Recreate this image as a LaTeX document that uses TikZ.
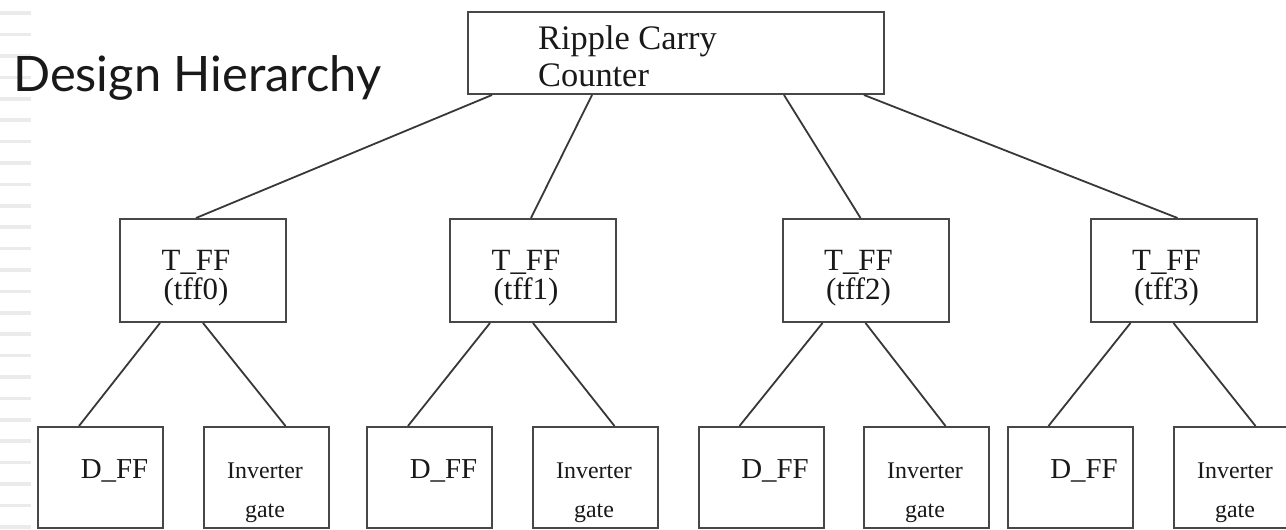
\documentclass[tikz,border=0pt]{standalone}
\usepackage{fontspec}
\setmainfont{Liberation Serif}
\newfontfamily\titlefont{Lato}
\usetikzlibrary{calc}
\begin{document}
\begin{tikzpicture}[x=1bp,y=-1bp,
  box/.style={draw=black!72, line width=2bp, fill=white, rectangle, inner sep=0pt},
  rootbox/.style={box, minimum width=416bp, minimum height=82bp},
  tbox/.style={box, minimum width=166bp, minimum height=103bp},
  leafbox/.style={box, minimum width=125bp, minimum height=101bp},
  link/.style={draw=black!78, line width=1.8bp},
  txt/.style={inner sep=0pt, text=black!90},
  rootfont/.style={font=\fontsize{34.5}{34.5}\selectfont},
  tfont/.style={font=\fontsize{31}{31}\selectfont},
  dfont/.style={font=\fontsize{29}{29}\selectfont},
  ifont/.style={font=\fontsize{24}{24}\selectfont},
  stripe/.style={fill=black!8, draw=none}]
\useasboundingbox (0,0) rectangle (1286,530);
\clip (0,0) rectangle (1286,530);
\fill[white] (0,0) rectangle (1286,530);

% ruled margin on the left
\foreach \k in {0,...,24}
  \fill[stripe] (0,{11.5+21.4*\k}) rectangle (31,{15+21.4*\k});

% title
\node[txt, anchor=base west, font=\titlefont\fontsize{49}{49}\selectfont] (title) at (13,92) {Design Hierarchy};

% top level
\node[rootbox] (root) at (676,53) {};
\node[txt, rootfont, anchor=base west] (rootl1) at (538,49.5) {Ripple Carry};
\node[txt, rootfont, anchor=base west] (rootl2) at (538,87) {Counter};

% T flip-flops
\foreach \n/\cx in {0/203, 1/533, 2/865.5, 3/1173.5} {
  \node[tbox] (tff\n) at (\cx,270.5) {};
  \node[txt, tfont, anchor=base] (tffa\n) at (\cx-7,271) {T\_FF};
  \node[txt, tfont, anchor=base] (tffb\n) at (\cx-7,300) {(tff\n)};
}

% leaf cells
\foreach \n/\dx/\ix in {0/100.5/266, 1/429.5/595, 2/761/926, 3/1070/1236} {
  \node[leafbox] (d\n) at (\dx,477.5) {};
  \node[txt, dfont, anchor=base] (dl\n) at (\dx+14,478) {D\_FF};
  \node[leafbox] (inv\n) at (\ix,477.5) {};
  \node[txt, ifont, anchor=base] (invl\n) at (\ix-1,478) {Inverter};
  \node[txt, ifont, anchor=base] (invm\n) at (\ix-1,517) {gate};
}

% root to T flip-flops
\draw[link] ($(root.south west)+(25,0)$)  -- ($(tff0.north west)+(77,0)$);
\draw[link] ($(root.south west)+(125,0)$) -- ($(tff1.north west)+(82,0)$);
\draw[link] ($(root.south west)+(317,0)$) -- ($(tff2.north west)+(79,0)$);
\draw[link] ($(root.south west)+(397,0)$) -- ($(tff3.north west)+(88,0)$);

% T flip-flops to their cells
\foreach \n in {0,1,2,3} {
  \draw[link] ($(tff\n.south west)+(41,0)$) -- ($(d\n.north west)+(42,0)$);
  \draw[link] ($(tff\n.south west)+(84,0)$) -- ($(inv\n.north west)+(83,0)$);
}
\end{tikzpicture}
\end{document}
